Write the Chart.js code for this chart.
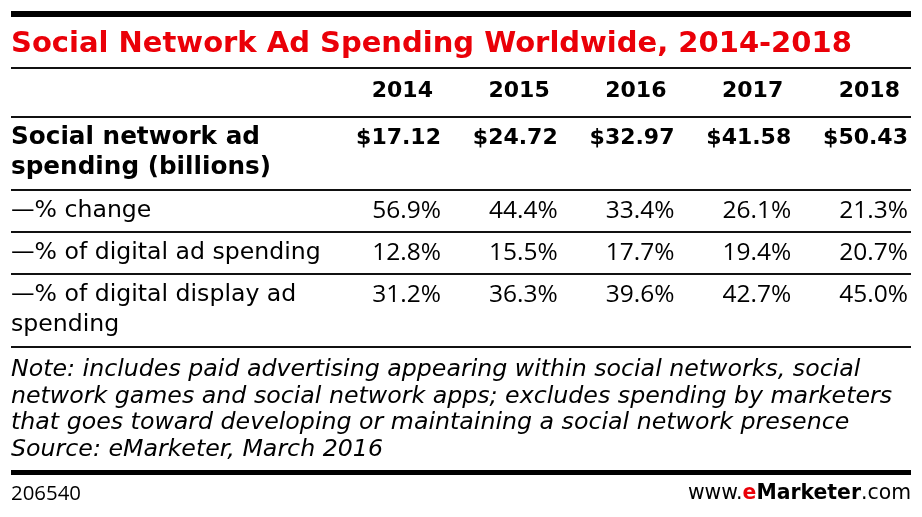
<!DOCTYPE html>
<html>
<head>
<meta charset="utf-8">
<script src="https://cdn.jsdelivr.net/npm/chart.js@4.4.1/dist/chart.umd.min.js"></script>
<style>
  html, body { margin: 0; padding: 0; background: #fff; }
  #wrap { width: 922px; height: 517px; }
</style>
</head>
<body>
<div id="wrap"><canvas id="canvas" width="922" height="517"></canvas></div>
<script>
// table data
const years = [2014, 2015, 2016, 2017, 2018];
const spending = [17.12, 24.72, 32.97, 41.58, 50.43];
const pctChange = [56.9, 44.4, 33.4, 26.1, 21.3];
const pctDigital = [12.8, 15.5, 17.7, 19.4, 20.7];
const pctDisplay = [31.2, 36.3, 39.6, 42.7, 45.0];
const rowLabels = [
  ['Social network ad', 'spending (billions)'],
  ['\u2014% change'],
  ['\u2014% of digital ad spending'],
  ['\u2014% of digital display ad', 'spending']
];
const title = 'Social Network Ad Spending Worldwide, 2014-2018';
const noteLines = [
  'Note: includes paid advertising appearing within social networks, social',
  'network games and social network apps; excludes spending by marketers',
  'that goes toward developing or maintaining a social network presence',
  'Source: eMarketer, March 2016'
];
const chartId = '206540';

const RED = '#ea0008';
const DJ = '"DejaVu Sans", sans-serif';
const OS = '"Open Sans", "Liberation Sans", sans-serif';

// row heights: one line rows are 42px, every extra line adds 31px
const rowHeight = lines => 42 + 31 * (lines - 1);
const rowTops = [];
let acc = 0;
rowLabels.forEach(l => { rowTops.push(acc); acc += rowHeight(l.length); });
const tableHeight = acc;

const rows = [
  { values: spending, fmt: v => '$' + v.toFixed(2), bold: true },
  { values: pctChange, fmt: v => v.toFixed(1) + '%' },
  { values: pctDigital, fmt: v => v.toFixed(1) + '%' },
  { values: pctDisplay, fmt: v => v.toFixed(1) + '%' }
];

const datasets = rows.map((r, i) => ({
  label: rowLabels[i].join(' '),
  data: years.map(yr => ({ x: yr, y: rowTops[i] + 21 })),
  texts: r.values.map(r.fmt),
  bold: !!r.bold,
  pointRadius: 0,
  showLine: false
}));

function hline(ctx, x1, x2, y, w) {
  ctx.save();
  ctx.strokeStyle = '#111';
  ctx.lineWidth = w;
  ctx.beginPath();
  ctx.moveTo(x1, y);
  ctx.lineTo(x2, y);
  ctx.stroke();
  ctx.restore();
}

// draws the table text and rules
const tablePlugin = {
  id: 'tableText',
  afterDatasetsDraw(chart) {
    const ctx = chart.ctx;
    const { left, right, top, bottom } = chart.chartArea;
    const xs = chart.scales.x, ys = chart.scales.y;
    ctx.save();

    // top bar
    ctx.fillStyle = '#000';
    ctx.fillRect(left, 11, right - left, 6);

    // title
    ctx.fillStyle = RED;
    ctx.font = 'bold 29px ' + DJ;
    ctx.textAlign = 'left';
    ctx.textBaseline = 'alphabetic';
    ctx.fillText(title, left, 52);
    hline(ctx, left, right, 68, 2);

    // header years
    ctx.fillStyle = '#000';
    ctx.font = 'bold 22px ' + DJ;
    ctx.textAlign = 'right';
    ctx.textBaseline = 'middle';
    years.forEach(yr => ctx.fillText(String(yr), xs.getPixelForValue(yr) - 8, 91));
    hline(ctx, left, right, top, 2);

    // rows
    chart.data.datasets.forEach((ds, i) => {
      const meta = chart.getDatasetMeta(i);
      ctx.font = ds.bold ? 'bold 22px ' + DJ : '24.5px ' + OS;
      ctx.textAlign = 'right';
      meta.data.forEach((pt, j) => ctx.fillText(ds.texts[j], pt.x, pt.y));
      ctx.font = ds.bold ? 'bold 24.7px ' + DJ : '23.6px ' + DJ;
      ctx.textAlign = 'left';
      const y0 = meta.data[0].y;
      rowLabels[i].forEach((line, k) => ctx.fillText(line, left, y0 + k * 30));
      const rowBottom = ys.getPixelForValue(rowTops[i] + rowHeight(rowLabels[i].length));
      hline(ctx, left, right, rowBottom, 2);
    });

    // notes
    ctx.font = 'oblique 23.7px ' + DJ;
    ctx.textAlign = 'left';
    noteLines.forEach((line, k) => ctx.fillText(line, left, bottom + 23 + k * 26.6));

    // footer
    ctx.fillRect(left, 470, right - left, 5);
    ctx.font = '20.4px ' + OS;
    ctx.fillText(chartId, left, 494);

    const parts = [
      { t: 'www.', f: '20.4px ' + DJ, c: '#000' },
      { t: 'e', f: 'bold 20.4px ' + DJ, c: RED },
      { t: 'Marketer', f: 'bold 20.4px ' + DJ, c: '#000' },
      { t: '.com', f: '20.4px ' + DJ, c: '#000' }
    ];
    let total = 0;
    parts.forEach(p => { ctx.font = p.f; p.w = ctx.measureText(p.t).width; total += p.w; });
    let px = right - total;
    parts.forEach(p => { ctx.font = p.f; ctx.fillStyle = p.c; ctx.fillText(p.t, px, 494); px += p.w; });

    ctx.restore();
  }
};

const ctx = document.getElementById('canvas').getContext('2d');
const myChart = new Chart(ctx, {
  type: 'scatter',
  data: { datasets: datasets },
  options: {
    responsive: false,
    animation: false,
    events: [],
    layout: { padding: { left: 11, right: 11, top: 117, bottom: 170 } },
    plugins: { legend: { display: false }, tooltip: { enabled: false } },
    scales: {
      x: { type: 'linear', display: false, min: 2010.317, max: 2018.026 },
      y: { type: 'linear', display: false, reverse: true, min: 0, max: tableHeight }
    }
  },
  plugins: [tablePlugin]
});
</script>
</body>
</html>
